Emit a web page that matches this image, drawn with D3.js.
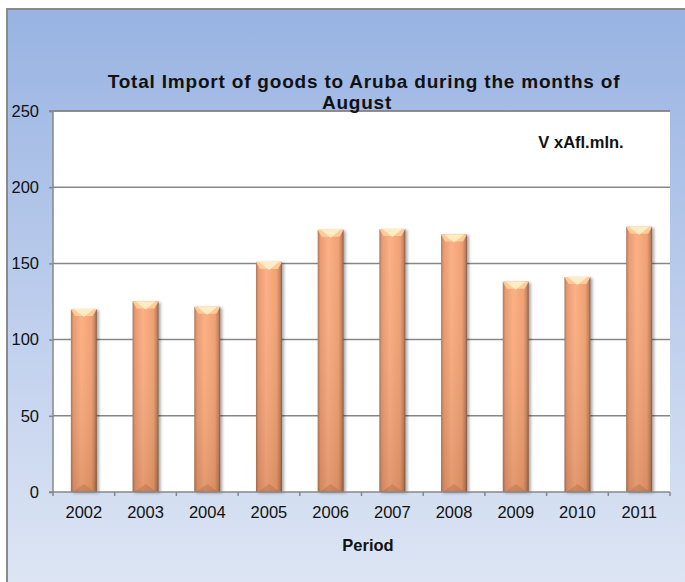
<!DOCTYPE html>
<html>
<head>
<meta charset="utf-8">
<script src="https://cdn.jsdelivr.net/npm/d3@7"></script>
<style>
  body { margin: 0; background: #fff; }
  svg { display: block; font-family: "Liberation Sans", Arial, sans-serif; }
  .grid line { stroke: #878787; stroke-width: 1.5; }
  .axis text { font-size: 16.5px; fill: #111; }
  .axis path, .axis line { stroke: #878787; stroke-width: 1.5; }
  .title { font-size: 19px; font-weight: bold; fill: #111; letter-spacing: 0.8px; }
  .lbl { font-size: 16.5px; font-weight: bold; fill: #111; }
</style>
</head>
<body>
<div id="chart"></div>
<script>
  // values (xAfl. mln)
  var years = ["2002", "2003", "2004", "2005", "2006", "2007", "2008", "2009", "2010", "2011"];
  var imports = [120, 125, 121.5, 151, 172, 172.5, 169, 138, 141, 174];
  var yTicks = [0, 50, 100, 150, 200, 250];

  var W = 685, H = 582;
  var plot = { left: 53, right: 670, top: 111, bottom: 492 };

  var svg = d3.select("#chart").append("svg")
    .attr("width", W)
    .attr("height", H);

  var defs = svg.append("defs");

  var bg = defs.append("linearGradient")
    .attr("id", "bg").attr("x1", 0).attr("y1", 0).attr("x2", 0).attr("y2", 1);
  bg.append("stop").attr("offset", "0%").attr("stop-color", "#98b3e2");
  bg.append("stop").attr("offset", "50%").attr("stop-color", "#bccdec");
  bg.append("stop").attr("offset", "100%").attr("stop-color", "#dee6f4");

  // horizontal shading of the bars
  var barGrad = defs.append("linearGradient")
    .attr("id", "barGrad").attr("x1", 0).attr("y1", 0).attr("x2", 1).attr("y2", 0);
  [["0%", "#a8704f"], ["10%", "#e8956a"], ["40%", "#fcac7e"], ["80%", "#f09c6c"], ["93%", "#c07c56"], ["100%", "#7e5238"]]
    .forEach(function (s) { barGrad.append("stop").attr("offset", s[0]).attr("stop-color", s[1]); });

  var barShade = defs.append("linearGradient")
    .attr("id", "barShade").attr("x1", 0).attr("y1", 0).attr("x2", 0).attr("y2", 1);
  barShade.append("stop").attr("offset", "0%").attr("stop-color", "#fff").attr("stop-opacity", 0.05);
  barShade.append("stop").attr("offset", "100%").attr("stop-color", "#7a4a30").attr("stop-opacity", 0.2);

  var shadow = defs.append("filter").attr("id", "shadow")
    .attr("x", "-30%").attr("y", "-10%").attr("width", "160%").attr("height", "120%");
  shadow.append("feDropShadow")
    .attr("dx", 2).attr("dy", 1).attr("stdDeviation", 1.5)
    .attr("flood-color", "#000").attr("flood-opacity", 0.35);

  // chart area
  svg.append("rect")
    .attr("x", 7).attr("y", 9)
    .attr("width", W).attr("height", H)
    .attr("fill", "url(#bg)")
    .attr("stroke", "#8a8a8a").attr("stroke-width", 2);

  svg.append("rect")
    .attr("x", plot.left).attr("y", plot.top)
    .attr("width", plot.right - plot.left).attr("height", plot.bottom - plot.top)
    .attr("fill", "#fff");

  var x = d3.scaleBand()
    .domain(years)
    .range([plot.left, plot.right])
    .paddingInner(0.58)
    .paddingOuter(0.29);

  var y = d3.scaleLinear()
    .domain([0, 250])
    .range([plot.bottom, plot.top]);

  // gridlines
  svg.append("g").attr("class", "grid")
    .selectAll("line")
    .data(yTicks.filter(function (d) { return d > 0; }))
    .enter().append("line")
    .attr("x1", plot.left).attr("x2", plot.right)
    .attr("y1", function (d) { return y(d); })
    .attr("y2", function (d) { return y(d); });

  // bars
  var bars = svg.append("g").selectAll("g")
    .data(imports)
    .enter().append("g")
    .attr("transform", function (d, i) { return "translate(" + x(years[i]) + ",0)"; });

  var bw = x.bandwidth();

  bars.append("rect")
    .attr("x", 0)
    .attr("y", function (d) { return y(d); })
    .attr("width", bw)
    .attr("height", function (d) { return y(0) - y(d); })
    .attr("fill", "url(#barGrad)")
    .attr("filter", "url(#shadow)");

  bars.append("rect")
    .attr("x", 0)
    .attr("y", function (d) { return y(d); })
    .attr("width", bw)
    .attr("height", function (d) { return y(0) - y(d); })
    .attr("fill", "url(#barShade)");

  // top bevel
  bars.append("path")
    .attr("d", function (d) {
      var t = y(d);
      return "M0," + t + "L" + bw + "," + t + "L" + (bw - 4) + "," + (t + 7) + "L4," + (t + 7) + "Z";
    })
    .attr("fill", "#ffcb99");
  bars.append("path")
    .attr("d", function (d) {
      var t = y(d);
      return "M3," + t + "L" + (bw - 3) + "," + t + "L" + (bw / 2) + "," + (t + 8) + "Z";
    })
    .attr("fill", "#fff0c6").attr("opacity", 0.9);

  // bottom bevel
  bars.append("path")
    .attr("d", function () {
      var b = y(0);
      return "M2," + b + "L" + (bw - 2) + "," + b + "L" + (bw / 2) + "," + (b - 8) + "Z";
    })
    .attr("fill", "#a9643f").attr("opacity", 0.35);

  // axes
  var yAxis = svg.append("g").attr("class", "axis")
    .attr("transform", "translate(" + plot.left + ",0)")
    .call(d3.axisLeft(y).tickValues(yTicks).tickSize(4).tickPadding(10).tickSizeOuter(0));
  yAxis.select(".domain").attr("d", "M0," + plot.top + "V" + plot.bottom);

  var xAxis = svg.append("g").attr("class", "axis")
    .attr("transform", "translate(0," + plot.bottom + ")")
    .call(d3.axisBottom(x).tickSize(0).tickPadding(14).tickSizeOuter(0));
  xAxis.select(".domain").attr("d", "M" + (plot.left - 4) + ",0H" + plot.right);

  // tick marks between categories
  svg.append("g").attr("class", "axis")
    .selectAll("line")
    .data(d3.range(years.length + 1))
    .enter().append("line")
    .attr("x1", function (i) { return plot.left + i * x.step(); })
    .attr("x2", function (i) { return plot.left + i * x.step(); })
    .attr("y1", plot.bottom).attr("y2", plot.bottom + 4);

  // top border of plot area
  svg.append("line")
    .attr("x1", plot.left - 4).attr("x2", plot.right)
    .attr("y1", plot.top).attr("y2", plot.top)
    .attr("stroke", "#878787").attr("stroke-width", 1.5);

  // texts
  svg.append("text").attr("class", "title")
    .attr("x", 364).attr("y", 88).attr("text-anchor", "middle")
    .text("Total Import of goods to Aruba during the months of");
  svg.append("text").attr("class", "title")
    .attr("x", 357).attr("y", 109).attr("text-anchor", "middle")
    .text("August");

  svg.append("text").attr("class", "lbl")
    .attr("x", 581).attr("y", 148).attr("text-anchor", "middle")
    .text("V xAfl.mln.");

  svg.append("text").attr("class", "lbl")
    .attr("x", 368).attr("y", 551).attr("text-anchor", "middle")
    .text("Period");
</script>
</body>
</html>
